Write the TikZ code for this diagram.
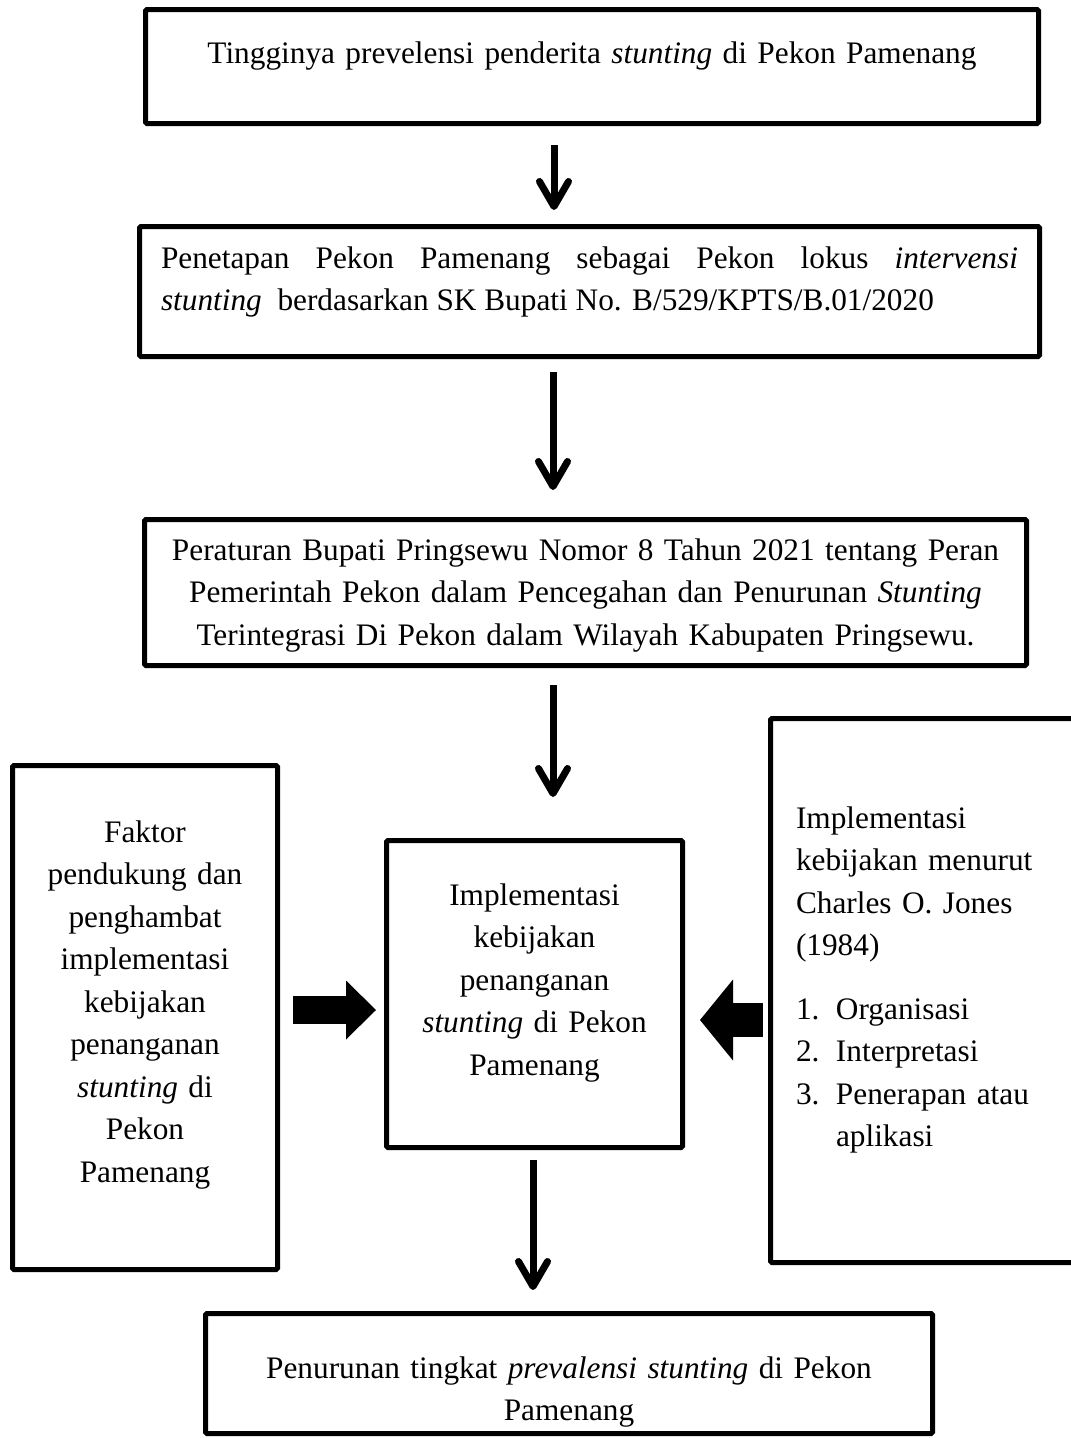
\documentclass[tikz,border=0pt]{standalone}
\usepackage{fontspec}
\setmainfont{Liberation Serif}
\usetikzlibrary{arrows.meta}

\begin{document}
\begin{tikzpicture}[x=1pt,y=-1pt,
		kotak/.style={draw, line width=5pt, rounded corners=1.5pt, inner sep=0pt, outer sep=0pt,
			anchor=north west, font=\fontsize{31.3}{42.5}\selectfont},
		alur/.style={line width=7pt, -{Straight Barb[length=25pt,width=29pt,round]}},
		dorong/.style={line width=#1}]
	\useasboundingbox (0,0) rectangle (1071,1438);
	% kotak-kotak
	\node [kotak, text width=893, align=center, text height=53.5, text depth=60.5] (masalah) at (145.5,9.5)
		{Tingginya prevelensi penderita \textit{stunting} di Pekon Pamenang};
	\node [kotak, inner xsep=21.5, text width=857, align=justify, text height=41.5, text depth=88.5] (penetapan) at (139.5,226.5)
		{Penetapan Pekon Pamenang sebagai Pekon lokus \textit{intervensi}\linebreak \textit{stunting}\ \ berdasarkan SK Bupati No. B/529/KPTS/B.01/2020};
	\node [kotak, text width=882, align=center, text height=40.5, text depth=105.5] (perbup) at (144.5,519.5)
		{Peraturan Bupati Pringsewu Nomor 8 Tahun 2021 tentang Peran\\ Pemerintah Pekon dalam Pencegahan dan Penurunan \textit{Stunting}\\ Terintegrasi Di Pekon dalam Wilayah Kabupaten Pringsewu.};
	\node [kotak, text width=265, align=center, text height=76.5, text depth=427.5] (faktor) at (12.5,765.5)
		{Faktor\\ pendukung dan\\ penghambat\\ implementasi\\ kebijakan\\ penanganan\\ \textit{stunting} di\\ Pekon\\ Pamenang};
	\node [kotak, text width=296, align=center, text height=64.5, text depth=242.5] (impl) at (386.5,840.5)
		{Implementasi\\ kebijakan\\ penanganan\\ \textit{stunting} di Pekon\\ Pamenang};
	\node [kotak, inner xsep=25.5, text width=300, align=left, text height=109.5, text depth=434.5] (teori) at (770.5,718.5)
		{Implementasi\\ kebijakan menurut\\ Charles O. Jones\\ (1984)\\[21pt]
		\makebox[40pt][l]{1.}Organisasi\\ \makebox[40pt][l]{2.}Interpretasi\\
		\makebox[40pt][l]{3.}Penerapan atau\\ \hspace*{40pt}aplikasi};
	\node [kotak, text width=727, align=center, text height=64.5, text depth=55.5] (hasil) at (205.5,1313.5)
		{Penurunan tingkat \textit{prevalensi stunting} di Pekon\\ Pamenang};
	% panah
	\coordinate (k1) at (554,0);
	\coordinate (k2) at (553,0);
	\coordinate (k3) at (533,0);
	\coordinate (bR) at (0,1010);
	\coordinate (bL) at (0,1020);
	\draw [alur, shorten <=21.5pt, shorten >=16.5pt] (masalah.south -| k1) -- (penetapan.north -| k1);
	\draw [alur, shorten <=15.5pt, shorten >=29.5pt] (penetapan.south -| k2) -- (perbup.north -| k2);
	\draw [alur, shorten <=19.5pt, shorten >=43.5pt] (perbup.south -| k2) -- (impl.north -| k2);
	\draw [alur, shorten <=12.5pt, shorten >=23.5pt] (impl.south -| k3) -- (hasil.north -| k3);
	\draw [dorong=28pt, -{Triangle[length=30pt,width=59pt,line width=0pt]}, shorten <=15.5pt, shorten >=10.5pt]
		(faktor.east |- bR) -- (impl.west |- bR);
	\draw [dorong=34pt, -{Triangle[length=33pt,width=81pt,line width=0pt]}, shorten <=7.5pt, shorten >=17.5pt]
		(teori.west |- bL) -- (impl.east |- bL);
\end{tikzpicture}
\end{document}
